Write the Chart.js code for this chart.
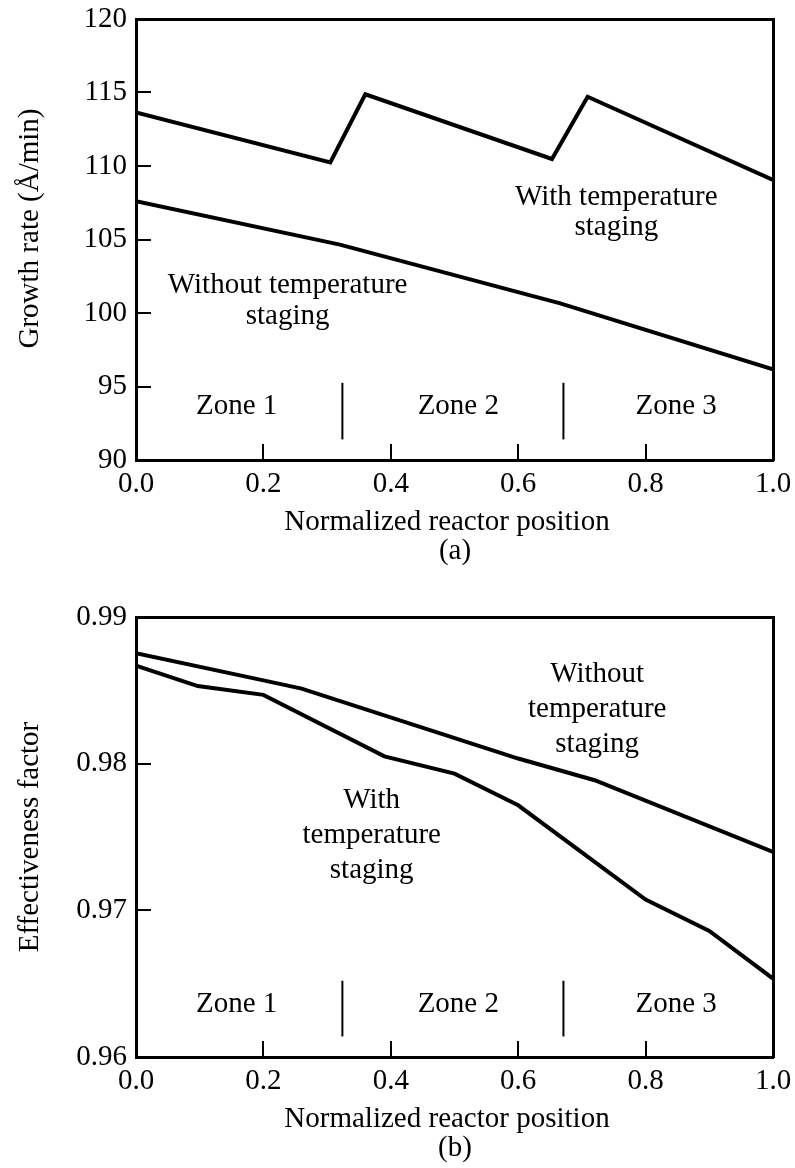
<!DOCTYPE html>
<html>
<head>
<meta charset="utf-8">
<script src="https://cdn.jsdelivr.net/npm/chart.js@4.4.1/dist/chart.umd.min.js"></script>
<style>
  html, body { margin: 0; padding: 0; background: #fff; }
  #wrap { position: relative; width: 795px; height: 1168px; }
  canvas { position: absolute; left: 0; }
  #chartA { top: 0; }
  #chartB { top: 580px; }
</style>
</head>
<body>
<div id="wrap">
  <canvas id="chartA" width="795" height="580"></canvas>
  <canvas id="chartB" width="795" height="588"></canvas>
</div>
<script>
// ---- data ----
const zoneNames = ["Zone 1", "Zone 2", "Zone 3"];
const zoneEdges = [0.324, 0.671];

// (a) growth rate, Å/min
const growthWithX = [0, 0.305, 0.36, 0.653, 0.709, 1.0];
const growthWithY = [113.65, 110.25, 114.88, 110.48, 114.71, 109.05];
const growthWithoutX = [0, 0.32, 0.666, 1.0];
const growthWithoutY = [107.6, 104.65, 100.66, 96.17];
const growthZoneMark = [91.4, 95.25];

// (b) effectiveness factor
const effWithoutX = [0, 0.2, 0.26, 0.6, 0.72, 1.0];
const effWithoutY = [0.98753, 0.98568, 0.98512, 0.98035, 0.97887, 0.97398];
const effWithX = [0, 0.097, 0.2, 0.39, 0.5, 0.6, 0.8, 0.9, 1.0];
const effWithY = [0.98669, 0.98529, 0.98469, 0.9805, 0.97932, 0.97716, 0.97073, 0.96859, 0.96535];
const effZoneMark = [0.9614, 0.9652];

const FONT = '"Liberation Serif", "Times New Roman", serif';

function xy(xs, ys) {
    return xs.map((x, i) => ({ x, y: ys[i] }));
}

function curve(xs, ys) {
    return { data: xy(xs, ys), borderColor: "#000", borderWidth: 4, showLine: true, pointRadius: 0, tension: 0 };
}

function zoneLines(marks) {
    return zoneEdges.map(e => ({
        data: xy([e, e], marks),
        borderColor: "#000", borderWidth: 2, showLine: true, pointRadius: 0
    }));
}

// no label overflow padding, so the plot box keeps its place
function noPad(s) {
    s.paddingLeft = 0; s.paddingRight = 0; s.paddingTop = 0; s.paddingBottom = 0;
}

// texts placed in data coordinates through the chart's own scales
const textLayer = {
    id: "textLayer",
    afterDraw(chart, args, opts) {
        const { ctx, chartArea, scales } = chart;
        ctx.save();
        ctx.fillStyle = "#000";
        ctx.font = "29px " + FONT;
        ctx.textAlign = "center";
        ctx.textBaseline = "alphabetic";
        opts.notes.forEach(n => {
            const px = scales.x.getPixelForValue(n.x);
            const py = scales.y.getPixelForValue(n.y);
            n.lines.forEach((t, i) => ctx.fillText(t, px, py + i * n.gap));
        });
        ctx.fillText(opts.xTitle, 447, chartArea.bottom + 70);
        ctx.fillText(opts.caption, 455, chartArea.bottom + 99);
        ctx.translate(38, (chartArea.top + chartArea.bottom) / 2 + opts.yTitleShift);
        ctx.rotate(-Math.PI / 2);
        ctx.fillText(opts.yTitle, 0, 0);
        ctx.restore();
    }
};

function frameAxis(position) {
    const horiz = position === "top";
    return {
        type: "linear", position, display: true,
        grid: { display: false },
        ticks: { display: false },
        border: { display: true, color: "#000", width: 3 },
        afterFit: s => { if (horiz) s.height = 0; else s.width = 0; noPad(s); }
    };
}

function makeChart(canvas, cfg) {
    return new Chart(canvas, {
        type: "scatter",
        data: { datasets: cfg.datasets },
        options: {
            responsive: false,
            animation: false,
            layout: { padding: { left: 0, top: cfg.padTop, right: 22, bottom: 0 } },
            plugins: {
                legend: { display: false },
                tooltip: { enabled: false },
                textLayer: cfg.text
            },
            scales: {
                x: {
                    type: "linear", min: 0, max: 1,
                    grid: { drawOnChartArea: false, color: "#000", lineWidth: 2, tickLength: -16 },
                    border: { color: "#000", width: 3 },
                    ticks: {
                        stepSize: 0.2, color: "#000", padding: 23,
                        font: { family: FONT, size: 29 },
                        callback: v => v.toFixed(1)
                    },
                    afterFit: s => { s.height = cfg.xHeight; noPad(s); }
                },
                y: {
                    type: "linear", min: cfg.yMin, max: cfg.yMax,
                    grid: { drawOnChartArea: false, color: "#000", lineWidth: 2, tickLength: -15 },
                    border: { color: "#000", width: 3 },
                    ticks: {
                        stepSize: cfg.yStep, color: "#000", padding: 24,
                        font: { family: FONT, size: 29 },
                        callback: cfg.yFmt
                    },
                    afterFit: s => { s.width = 136; noPad(s); }
                },
                xTop: frameAxis("top"),
                yRight: frameAxis("right")
            }
        },
        plugins: [textLayer]
    });
}

makeChart(document.getElementById("chartA"), {
    datasets: [curve(growthWithX, growthWithY), curve(growthWithoutX, growthWithoutY), ...zoneLines(growthZoneMark)],
    yMin: 90, yMax: 120, yStep: 5, yFmt: v => v.toFixed(0),
    padTop: 19, xHeight: 120,
    text: {
        xTitle: "Normalized reactor position", caption: "(a)", yTitle: "Growth rate (Å/min)", yTitleShift: -11,
        notes: [
            { x: 0.754, y: 107.35, gap: 30, lines: ["With temperature", "staging"] },
            { x: 0.238, y: 101.34, gap: 31, lines: ["Without temperature", "staging"] },
            { x: 0.158, y: 93.13, gap: 0, lines: [zoneNames[0]] },
            { x: 0.506, y: 93.13, gap: 0, lines: [zoneNames[1]] },
            { x: 0.848, y: 93.13, gap: 0, lines: [zoneNames[2]] }
        ]
    }
});

makeChart(document.getElementById("chartB"), {
    datasets: [curve(effWithoutX, effWithoutY), curve(effWithX, effWithY), ...zoneLines(effZoneMark)],
    yMin: 0.96, yMax: 0.99, yStep: 0.01, yFmt: v => v.toFixed(2),
    padTop: 37, xHeight: 111,
    text: {
        xTitle: "Normalized reactor position", caption: "(b)", yTitle: "Effectiveness factor", yTitleShift: 0,
        notes: [
            { x: 0.724, y: 0.98557, gap: 35, lines: ["Without", "temperature", "staging"] },
            { x: 0.37, y: 0.97696, gap: 35, lines: ["With", "temperature", "staging"] },
            { x: 0.158, y: 0.96307, gap: 0, lines: [zoneNames[0]] },
            { x: 0.506, y: 0.96307, gap: 0, lines: [zoneNames[1]] },
            { x: 0.848, y: 0.96307, gap: 0, lines: [zoneNames[2]] }
        ]
    }
});
</script>
</body>
</html>
